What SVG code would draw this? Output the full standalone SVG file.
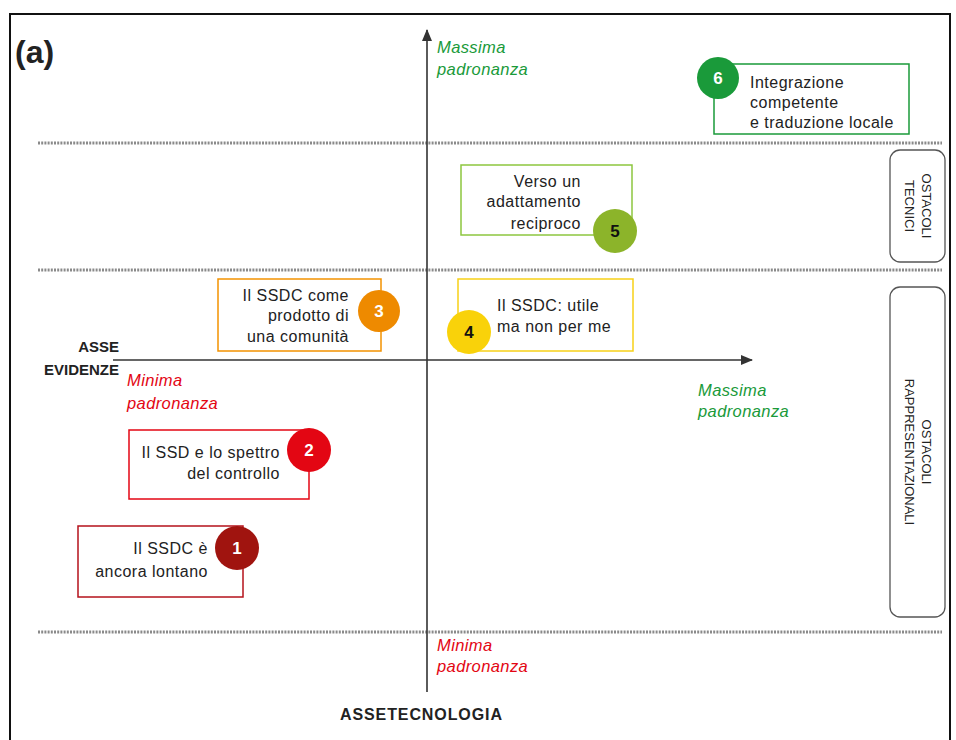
<svg xmlns="http://www.w3.org/2000/svg" width="956" height="740" viewBox="0 0 956 740">
  <style>
    .t { font-family: "Liberation Sans", Arial, sans-serif; font-size: 16px; letter-spacing: 0.5px; fill: #222; }
    .b { font-family: "Liberation Sans", Arial, sans-serif; font-weight: bold; fill: #222; }
    .g { font-family: "Liberation Sans", Arial, sans-serif; font-style: italic; font-size: 16.5px; letter-spacing: 0.4px; fill: #1a9a3a; }
    .r { font-family: "Liberation Sans", Arial, sans-serif; font-style: italic; font-size: 16.5px; letter-spacing: 0.4px; fill: #e30613; }
    .num { font-family: "Liberation Sans", Arial, sans-serif; font-weight: bold; font-size: 17px; fill: #fff; text-anchor: middle; }
    .num4 { font-family: "Liberation Sans", Arial, sans-serif; font-weight: bold; font-size: 17px; fill: #111; text-anchor: middle; }
    .sep { stroke: #8a8a8a; stroke-width: 3; stroke-dasharray: 2 1.2; fill: none; }
    .axis { stroke: #333; stroke-width: 1.6; fill: none; }
    .obst { fill: #fff; stroke: #555; stroke-width: 1.3; }
    .vt { font-family: "Liberation Sans", Arial, sans-serif; font-size: 13px; fill: #222; text-anchor: middle; }
  </style>
  <defs>
    <marker id="arrow" markerWidth="12" markerHeight="10" refX="11" refY="5" orient="auto" markerUnits="userSpaceOnUse">
      <path d="M0,0 L12,5 L0,10 Z" fill="#333"/>
    </marker>
  </defs>

  <rect x="0" y="0" width="956" height="740" fill="#fff"/>
  <!-- frame -->
  <rect x="10" y="14" width="940" height="740" fill="none" stroke="#111" stroke-width="2"/>
  <text x="15" y="63" class="b" font-size="32">(a)</text>

  <!-- separators -->
  <line x1="38" y1="143" x2="942" y2="143" class="sep"/>
  <line x1="38" y1="270" x2="942" y2="270" class="sep"/>
  <line x1="38" y1="632" x2="942" y2="632" class="sep"/>

  <!-- axes -->
  <g id="connectors">
    <line x1="427" y1="692" x2="427" y2="30" class="axis" marker-end="url(#arrow)"/>
    <line x1="113" y1="360" x2="752" y2="360" class="axis" marker-end="url(#arrow)"/>
  </g>

  <!-- axis labels -->
  <text class="g"><tspan x="437" y="53">Massima</tspan><tspan x="437" y="75">padronanza</tspan></text>
  <text class="g"><tspan x="698" y="396">Massima</tspan><tspan x="698" y="417">padronanza</tspan></text>
  <text class="r"><tspan x="127" y="386">Minima</tspan><tspan x="127" y="409">padronanza</tspan></text>
  <text class="r"><tspan x="437" y="651">Minima</tspan><tspan x="437" y="672">padronanza</tspan></text>
  <text class="b" font-size="15" text-anchor="end"><tspan x="119" y="352">ASSE</tspan><tspan x="119" y="375">EVIDENZE</tspan></text>
  <text class="b" font-size="16" letter-spacing="0.9" x="340" y="720">ASSETECNOLOGIA</text>

  <!-- obstacle bands -->
  <g id="ostacoli-tecnici">
    <rect x="890" y="150" width="55" height="112" rx="10" class="obst"/>
    <g transform="translate(917,206) rotate(90)">
      <text class="vt" x="0" y="-5">OSTACOLI</text>
      <text class="vt" x="0" y="12">TECNICI</text>
    </g>
  </g>
  <g id="ostacoli-rappresentazionali">
    <rect x="890" y="287" width="55" height="330" rx="10" class="obst"/>
    <g transform="translate(917,452) rotate(90)">
      <text class="vt" x="0" y="-5">OSTACOLI</text>
      <text class="vt" x="0" y="12">RAPPRESENTAZIONALI</text>
    </g>
  </g>

  <!-- nodes -->
  <g id="node6">
    <rect x="714" y="64" width="195" height="70" fill="#fff" stroke="#1a9a3a" stroke-width="1.5"/>
    <circle cx="718" cy="78" r="21" fill="#1a9a3a"/>
    <text class="num" x="718" y="84">6</text>
    <text class="t"><tspan x="750" y="88">Integrazione</tspan><tspan x="750" y="108">competente</tspan><tspan x="750" y="128">e traduzione locale</tspan></text>
  </g>

  <g id="node5">
    <rect x="461" y="165" width="171" height="70" fill="#fff" stroke="#8dc63f" stroke-width="1.5"/>
    <circle cx="615" cy="231" r="22" fill="#8cb42a"/>
    <text class="num4" x="615" y="237">5</text>
    <text class="t" text-anchor="end"><tspan x="581" y="187">Verso un</tspan><tspan x="581" y="207">adattamento</tspan><tspan x="581" y="229">reciproco</tspan></text>
  </g>

  <g id="node3">
    <rect x="218" y="279" width="163" height="72" fill="#fff" stroke="#f39200" stroke-width="1.5"/>
    <circle cx="379" cy="311" r="21" fill="#ee8a00"/>
    <text class="num" x="379" y="317">3</text>
    <text class="t" text-anchor="end"><tspan x="349" y="301">Il SSDC come</tspan><tspan x="349" y="321">prodotto di</tspan><tspan x="349" y="342">una comunità</tspan></text>
  </g>

  <g id="node4">
    <rect x="458" y="279" width="175" height="72" fill="#fff" stroke="#f7d117" stroke-width="1.5"/>
    <circle cx="469" cy="332" r="22" fill="#f9d20a"/>
    <text class="num4" x="469" y="338">4</text>
    <text class="t"><tspan x="497" y="311">Il SSDC: utile</tspan><tspan x="497" y="332">ma non per me</tspan></text>
  </g>

  <g id="node2">
    <rect x="129" y="430" width="180" height="69" fill="#fff" stroke="#e30613" stroke-width="1.5"/>
    <circle cx="309" cy="450" r="22" fill="#e30613"/>
    <text class="num" x="309" y="456">2</text>
    <text class="t" text-anchor="end"><tspan x="280" y="458">Il SSD e lo spettro</tspan><tspan x="280" y="479">del controllo</tspan></text>
  </g>

  <g id="node1">
    <rect x="78" y="526" width="165" height="71" fill="#fff" stroke="#b5121b" stroke-width="1.5"/>
    <circle cx="237" cy="548" r="22" fill="#a0140f"/>
    <text class="num" x="237" y="554">1</text>
    <text class="t" text-anchor="end"><tspan x="208" y="554">Il SSDC è</tspan><tspan x="208" y="577">ancora lontano</tspan></text>
  </g>
</svg>
